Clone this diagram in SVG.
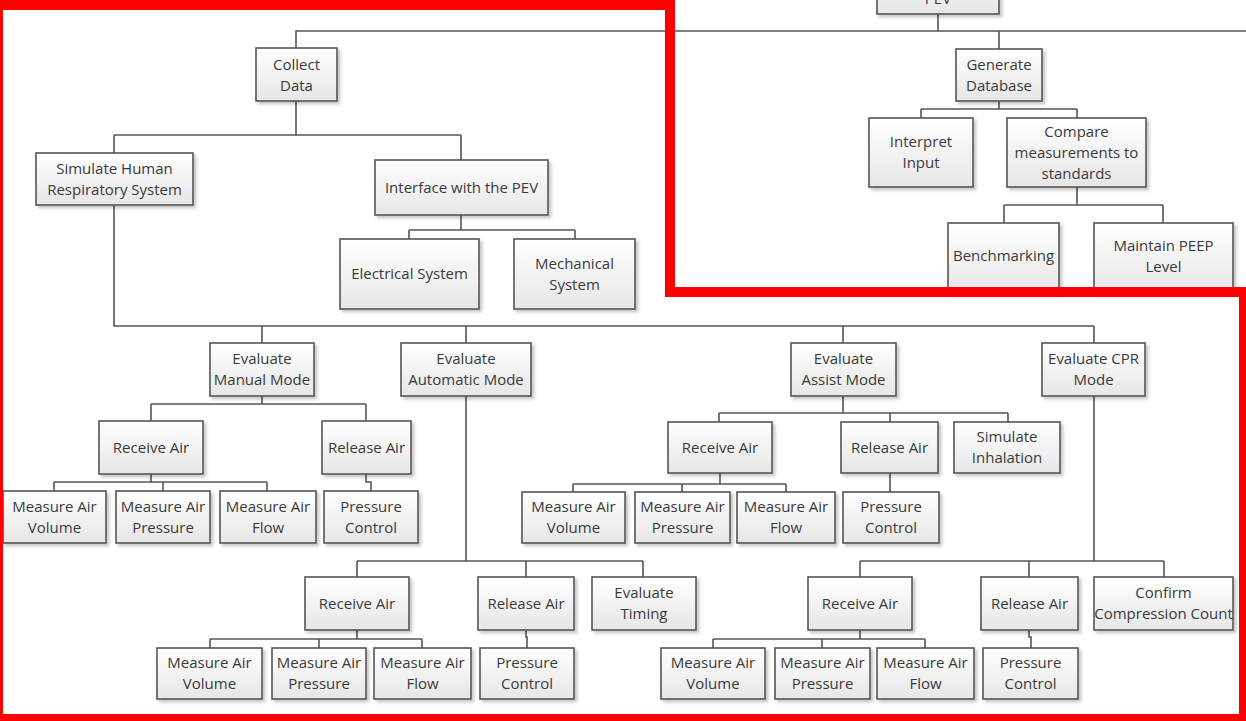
<svg xmlns="http://www.w3.org/2000/svg" width="1246" height="721" viewBox="0 0 1246 721">
<style>
.b{fill:url(#g);stroke:#555;stroke-width:1.6;filter:url(#sh)}
.t{font-family:"Open Sans","Liberation Sans",sans-serif;font-size:15px;fill:#3a3a3a;text-anchor:middle}
.c{fill:none;stroke:#555;stroke-width:1.6}
.red{fill:none;stroke:#ff0000;stroke-width:10}
</style>
<defs>
<linearGradient id="g" x1="0" y1="0" x2="0" y2="1"><stop offset="0" stop-color="#ffffff"/><stop offset="1" stop-color="#e6e6e6"/></linearGradient>
<filter id="sh" x="-10%" y="-10%" width="130%" height="130%"><feDropShadow dx="2.5" dy="2.5" stdDeviation="1.5" flood-color="#000" flood-opacity="0.22"/></filter>
</defs>
<rect width="1246" height="721" fill="#fff"/>
<g id="connectors" class="c">
<path d="M296,48V31H1246M938,14V31M999,31V49"/>
<path d="M296,101V135M114,135H461M114,135V153M461,135V160"/>
<path d="M461,215V230M409,230H575M409,230V239M575,230V239"/>
<path d="M999,101V109M921,109H1077M921,109V118M1077,109V118"/>
<path d="M1077,187V205M1004,205H1163M1004,205V223M1163,205V223"/>
<path d="M114,205V326H1094M262,326V343M466,326V343M843,326V343M1094,326V343"/>
<path d="M262,396V404M151,404H366M151,404V421M366,404V421"/>
<path d="M151,474V482M54,482H267M54,482V491M163,482V491M267,482V491"/>
<path d="M366,474V482H371V491"/>
<path d="M466,396V561M357,561H643M357,561V577M526,561V577M643,561V577"/>
<path d="M357,630V639M210,639H422M210,639V648M319,639V648M422,639V648"/>
<path d="M526,630V637H527V648"/>
<path d="M843,396V413M719,413H1008M719,413V422M890,413V422M1008,413V422"/>
<path d="M720,473V484M573,484H786M573,484V492M682,484V492M786,484V492"/>
<path d="M890,473V492"/>
<path d="M1094,396V561M860,561H1164M860,561V577M1029,561V577M1164,561V577"/>
<path d="M860,630V639M713,639H925M713,639V648M822,639V648M925,639V648"/>
<path d="M1029,630V637H1031V648"/>
</g>
<g id="pev"><rect class="b" x="877" y="-40" width="122" height="54"/><text class="t" x="938" y="4">PEV</text></g>
<g id="collect"><rect class="b" x="256" y="48" width="81" height="53"/><text class="t" x="296.5" y="69.5">Collect</text><text class="t" x="296.5" y="90.5">Data</text></g>
<g id="simulate"><rect class="b" x="36" y="153" width="157" height="52"/><text class="t" x="114.5" y="173.5">Simulate Human</text><text class="t" x="114.5" y="194.5">Respiratory System</text></g>
<g id="interface"><rect class="b" x="375" y="160" width="173" height="55"/><text class="t" x="461.5" y="192.5">Interface with the PEV</text></g>
<g id="electrical"><rect class="b" x="340" y="239" width="139" height="70"/><text class="t" x="409.5" y="279">Electrical System</text></g>
<g id="mechanical"><rect class="b" x="514" y="239" width="121" height="70"/><text class="t" x="574.5" y="268.5">Mechanical</text><text class="t" x="574.5" y="289.5">System</text></g>
<g id="gendb"><rect class="b" x="956" y="49" width="86" height="52"/><text class="t" x="999" y="69.5">Generate</text><text class="t" x="999" y="90.5">Database</text></g>
<g id="interpret"><rect class="b" x="869" y="118" width="104" height="69"/><text class="t" x="921" y="147">Interpret</text><text class="t" x="921" y="168">Input</text></g>
<g id="compare"><rect class="b" x="1007" y="118" width="139" height="69"/><text class="t" x="1076.5" y="136.5">Compare</text><text class="t" x="1076.5" y="157.5">measurements to</text><text class="t" x="1076.5" y="178.5">standards</text></g>
<g id="bench"><rect class="b" x="948" y="223" width="111" height="70"/><text class="t" x="1003.5" y="261">Benchmarking</text></g>
<g id="peep"><rect class="b" x="1094" y="223" width="139" height="70"/><text class="t" x="1163.5" y="250.5">Maintain PEEP</text><text class="t" x="1163.5" y="271.5">Level</text></g>
<g id="manual"><rect class="b" x="210" y="343" width="104" height="53"/><text class="t" x="262" y="364">Evaluate</text><text class="t" x="262" y="385">Manual Mode</text></g>
<g id="auto"><rect class="b" x="401" y="343" width="130" height="53"/><text class="t" x="466" y="364">Evaluate</text><text class="t" x="466" y="385">Automatic Mode</text></g>
<g id="assist"><rect class="b" x="791" y="343" width="105" height="53"/><text class="t" x="843.5" y="364">Evaluate</text><text class="t" x="843.5" y="385">Assist Mode</text></g>
<g id="cpr"><rect class="b" x="1042" y="343" width="103" height="53"/><text class="t" x="1093.5" y="364">Evaluate CPR</text><text class="t" x="1093.5" y="385">Mode</text></g>
<g id="m_recv"><rect class="b" x="99" y="421" width="104" height="53"/><text class="t" x="151" y="452.5">Receive Air</text></g>
<g id="m_rel"><rect class="b" x="322" y="421" width="89" height="53"/><text class="t" x="366.5" y="452.5">Release Air</text></g>
<g id="m_vol"><rect class="b" x="3" y="491" width="103" height="52"/><text class="t" x="54.5" y="511.5">Measure Air</text><text class="t" x="54.5" y="532.5">Volume</text></g>
<g id="m_pres"><rect class="b" x="116" y="491" width="94" height="52"/><text class="t" x="163" y="511.5">Measure Air</text><text class="t" x="163" y="532.5">Pressure</text></g>
<g id="m_flow"><rect class="b" x="220" y="491" width="96" height="52"/><text class="t" x="268" y="511.5">Measure Air</text><text class="t" x="268" y="532.5">Flow</text></g>
<g id="m_pc"><rect class="b" x="324" y="491" width="94" height="52"/><text class="t" x="371" y="511.5">Pressure</text><text class="t" x="371" y="532.5">Control</text></g>
<g id="a_recv"><rect class="b" x="305" y="577" width="104" height="53"/><text class="t" x="357" y="608.5">Receive Air</text></g>
<g id="a_rel"><rect class="b" x="478" y="577" width="96" height="53"/><text class="t" x="526" y="608.5">Release Air</text></g>
<g id="a_timing"><rect class="b" x="592" y="577" width="104" height="53"/><text class="t" x="644" y="598">Evaluate</text><text class="t" x="644" y="619">Timing</text></g>
<g id="a_vol"><rect class="b" x="157" y="648" width="105" height="51"/><text class="t" x="209.5" y="668">Measure Air</text><text class="t" x="209.5" y="689">Volume</text></g>
<g id="a_pres"><rect class="b" x="272" y="648" width="94" height="51"/><text class="t" x="319" y="668">Measure Air</text><text class="t" x="319" y="689">Pressure</text></g>
<g id="a_flow"><rect class="b" x="374" y="648" width="97" height="51"/><text class="t" x="422.5" y="668">Measure Air</text><text class="t" x="422.5" y="689">Flow</text></g>
<g id="a_pc"><rect class="b" x="480" y="648" width="94" height="51"/><text class="t" x="527" y="668">Pressure</text><text class="t" x="527" y="689">Control</text></g>
<g id="s_recv"><rect class="b" x="668" y="422" width="104" height="51"/><text class="t" x="720" y="452.5">Receive Air</text></g>
<g id="s_rel"><rect class="b" x="841" y="422" width="97" height="51"/><text class="t" x="889.5" y="452.5">Release Air</text></g>
<g id="s_sim"><rect class="b" x="954" y="422" width="106" height="51"/><text class="t" x="1007" y="442">Simulate</text><text class="t" x="1007" y="463">Inhalation</text></g>
<g id="s_vol"><rect class="b" x="522" y="492" width="103" height="51"/><text class="t" x="573.5" y="512">Measure Air</text><text class="t" x="573.5" y="533">Volume</text></g>
<g id="s_pres"><rect class="b" x="635" y="492" width="95" height="51"/><text class="t" x="682.5" y="512">Measure Air</text><text class="t" x="682.5" y="533">Pressure</text></g>
<g id="s_flow"><rect class="b" x="737" y="492" width="98" height="51"/><text class="t" x="786" y="512">Measure Air</text><text class="t" x="786" y="533">Flow</text></g>
<g id="s_pc"><rect class="b" x="843" y="492" width="96" height="51"/><text class="t" x="891" y="512">Pressure</text><text class="t" x="891" y="533">Control</text></g>
<g id="c_recv"><rect class="b" x="808" y="577" width="104" height="53"/><text class="t" x="860" y="608.5">Receive Air</text></g>
<g id="c_rel"><rect class="b" x="981" y="577" width="97" height="53"/><text class="t" x="1029.5" y="608.5">Release Air</text></g>
<g id="c_conf"><rect class="b" x="1094" y="577" width="139" height="53"/><text class="t" x="1163.5" y="598">Confirm</text><text class="t" x="1163.5" y="619">Compression Count</text></g>
<g id="c_vol"><rect class="b" x="661" y="648" width="104" height="51"/><text class="t" x="713" y="668">Measure Air</text><text class="t" x="713" y="689">Volume</text></g>
<g id="c_pres"><rect class="b" x="775" y="648" width="95" height="51"/><text class="t" x="822.5" y="668">Measure Air</text><text class="t" x="822.5" y="689">Pressure</text></g>
<g id="c_flow"><rect class="b" x="877" y="648" width="97" height="51"/><text class="t" x="925.5" y="668">Measure Air</text><text class="t" x="925.5" y="689">Flow</text></g>
<g id="c_pc"><rect class="b" x="983" y="648" width="95" height="51"/><text class="t" x="1030.5" y="668">Pressure</text><text class="t" x="1030.5" y="689">Control</text></g>
<path id="highlight" class="red" d="M-2,5H670V292H1244V719H-2Z"/>
</svg>
